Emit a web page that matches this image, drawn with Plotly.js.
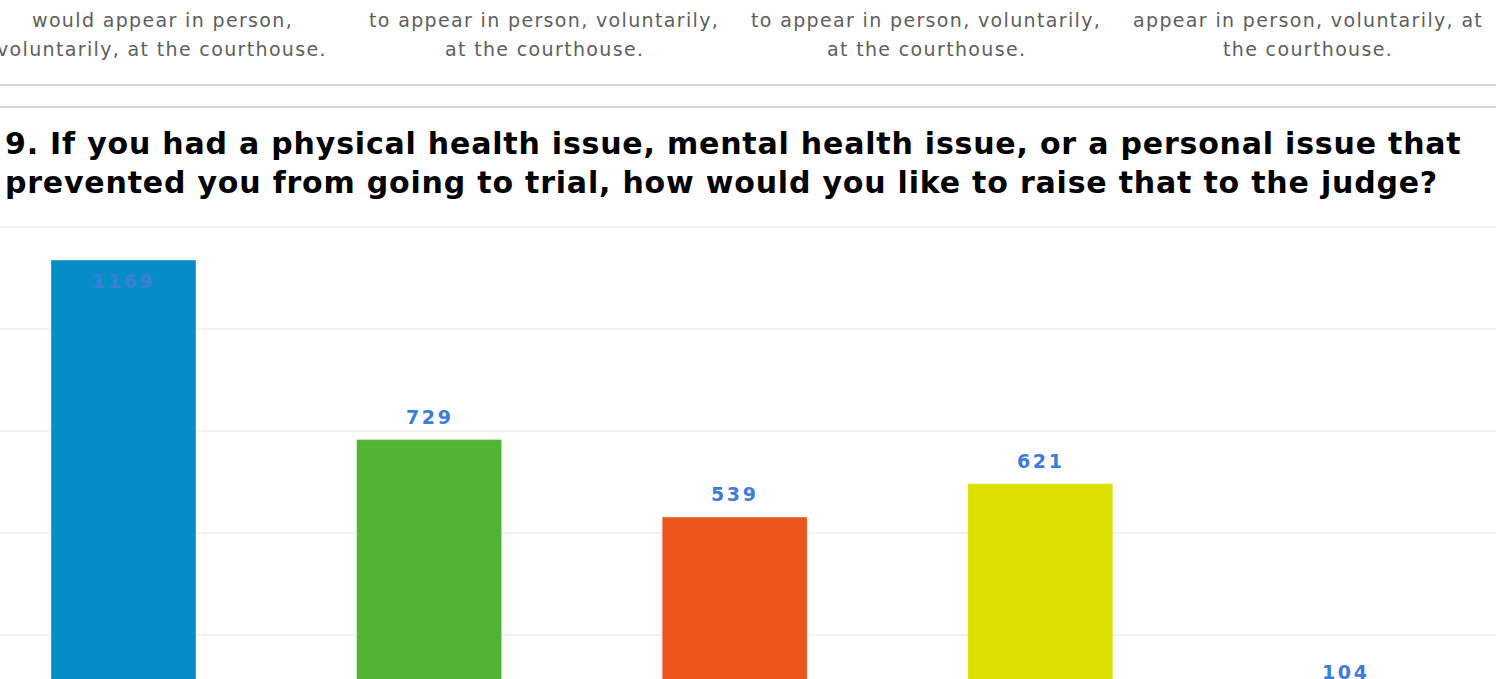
<!DOCTYPE html>
<html>
<head>
<meta charset="utf-8">
<script src="https://cdn.plot.ly/plotly-3.0.1.min.js"></script>
<style>
  html, body { margin:0; padding:0; background:#fff; overflow:hidden; width:1496px; height:679px; }
  #wrap { position:relative; width:1496px; height:679px; overflow:hidden; }
  #chart { position:absolute; left:0; top:0; width:1496px; height:847px; }
  .divider { position:absolute; left:0; width:1496px; height:2px; background:#d6d6d6; z-index:5; }
</style>
</head>
<body>
<div id="wrap">
  <div id="chart"></div>
  <div class="divider" style="top:84px"></div>
  <div class="divider" style="top:106px"></div>
</div>
<script>
// Previous chart's category labels (partially visible at the top of the page)
const prevLabelLines = [
  ["would appear in person,", "voluntarily, at the courthouse."],
  ["to appear in person, voluntarily,", "at the courthouse."],
  ["to appear in person, voluntarily,", "at the courthouse."],
  ["appear in person, voluntarily, at", "the courthouse."]
];
const prevLabelCenters = [162, 544, 926, 1308];

const titleLines = [
  "9. If you had a physical health issue, mental health issue, or a personal issue that",
  "prevented you from going to trial, how would you like to raise that to the judge?"
];

const categories = ["Option 1", "Option 2", "Option 3", "Option 4", "Option 5"];
const values = [1169, 729, 539, 621, 104];
const colors = ["#058DC7", "#50B432", "#ED561B", "#DDDF00", "#24CBE5"];
const yTicks = [0, 250, 500, 750, 1000, 1250];

const W = 1496, H = 847, T = 226, PH = 511;
const B = H - T - PH;
const yMax = yTicks[yTicks.length - 1];
const yTop = yMax + 2.5;
const pyToPaper = p => (T + PH - p) / PH;
const spaced = (s, ls) => '<span style="letter-spacing:' + ls + 'px">' + s + '</span>';

const annotations = [];
prevLabelLines.forEach((lines, i) => {
  lines.forEach((ln, j) => {
    annotations.push({
      xref: "paper", yref: "paper",
      x: prevLabelCenters[i] / W, y: pyToPaper(20 + 29 * j),
      xanchor: "center", yanchor: "middle",
      text: spaced(ln, 1.35), showarrow: false,
      font: { family: "DejaVu Sans", size: 19, color: "#5e5e5e" }
    });
  });
});
values.forEach((v, i) => {
  const inside = v > 0.9 * yMax;
  annotations.push({
    x: categories[i], y: v, xref: "x", yref: "y",
    text: spaced(String(v), 2.6), showarrow: false,
    yanchor: "middle", xanchor: "center",
    yshift: inside ? -21 : 23,
    font: { family: "DejaVu Sans", size: 19, color: "#3b7dd8", weight: "bold" }
  });
});

const trace = {
  type: "bar",
  x: categories, y: values,
  width: 0.4745,
  marker: { color: colors, line: { color: "rgba(255,255,255,0.35)", width: 1 } },
  hoverinfo: "none"
};

const layout = {
  width: W, height: H,
  margin: { l: 0, r: 0, t: T, b: B, pad: 0 },
  paper_bgcolor: "rgba(0,0,0,0)", plot_bgcolor: "rgba(0,0,0,0)",
  showlegend: false,
  title: {
    text: titleLines.map(l => spaced(l, 0.8)).join("<br>"),
    x: 5 / W, xanchor: "left", xref: "container",
    y: 1 - 154 / H, yanchor: "middle", yref: "container",
    font: { family: "DejaVu Sans", size: 30, color: "#000", weight: "bold" }
  },
  xaxis: {
    type: "category",
    range: [-0.404, 4.491],
    showgrid: false, zeroline: false, showline: false,
    showticklabels: false, ticks: ""
  },
  yaxis: {
    range: [0, yTop],
    tickvals: yTicks,
    showticklabels: false,
    showgrid: true, gridcolor: "#f2f2f2", gridwidth: 2,
    zeroline: false, showline: false, ticks: ""
  },
  annotations: annotations
};

Plotly.newPlot("chart", [trace], layout, { displayModeBar: false, staticPlot: true });
</script>
</body>
</html>
